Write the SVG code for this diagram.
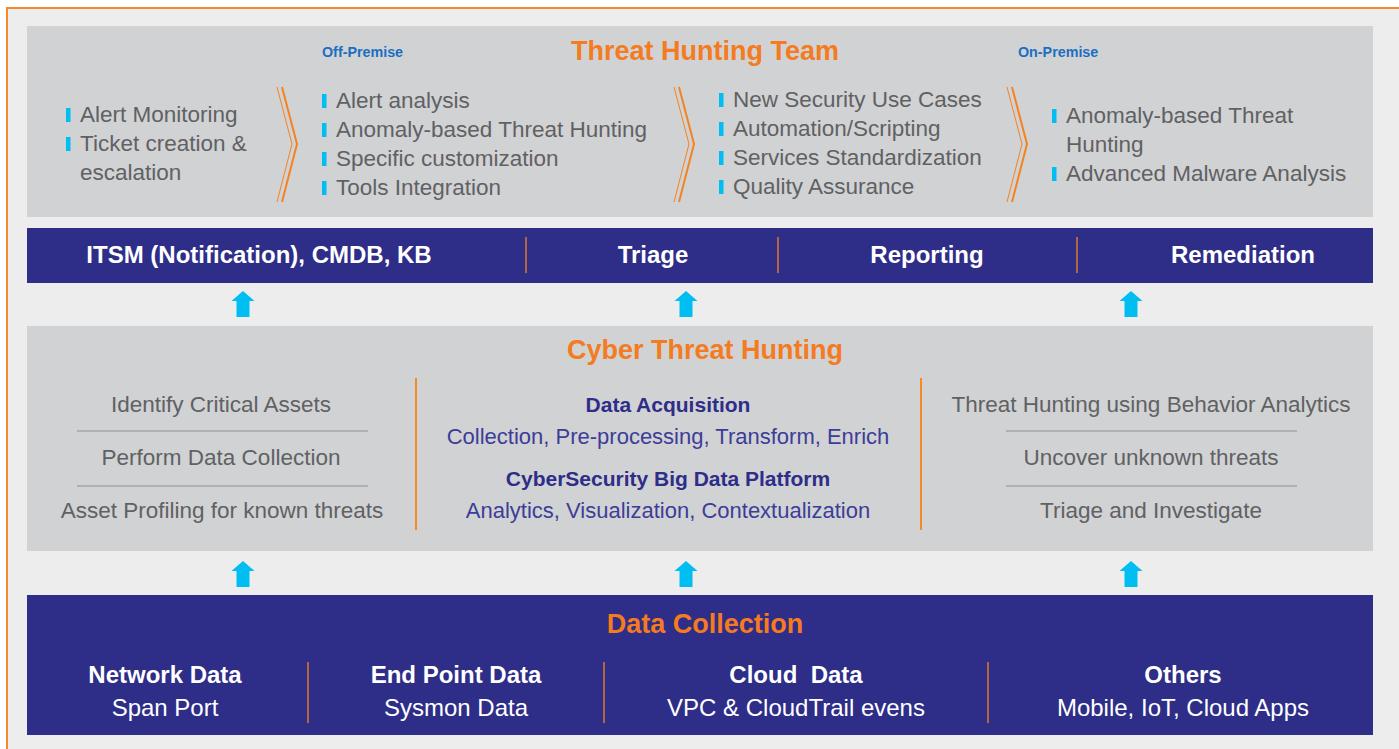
<svg xmlns="http://www.w3.org/2000/svg" width="1399" height="749" viewBox="0 0 1399 749">
<defs>
<style>
.bg{fill:#ffffff}
.frame{fill:#ededed;stroke:#f58a2a;stroke-width:2}
.panel{fill:#d1d2d4}
.navy{fill:#2e2d88}
.title{font-family:"Liberation Sans",Arial,sans-serif;font-weight:bold;font-size:27px;fill:#f47b20;text-anchor:middle}
.prem{font-family:"Liberation Sans",Arial,sans-serif;font-weight:bold;font-size:14.3px;fill:#1a6fc0}
.body{font-family:"Liberation Sans",Arial,sans-serif;font-size:22.5px;fill:#606163}
.mid{text-anchor:middle}
.bul{fill:#00bdf2}
.chev{fill:none;stroke:#f58220;stroke-linejoin:miter}
.bar{font-family:"Liberation Sans",Arial,sans-serif;font-weight:bold;font-size:24px;fill:#ffffff;text-anchor:middle}
.sep{stroke:#e0782a;stroke-width:1.5}
.osep{stroke:#f58a2a;stroke-width:2}
.gline{stroke:#8f9093;stroke-width:1.2}
.h2{font-family:"Liberation Sans",Arial,sans-serif;font-weight:bold;font-size:21px;fill:#2e2d88;text-anchor:middle}
.b2{font-family:"Liberation Sans",Arial,sans-serif;font-size:22px;fill:#3d3d98;text-anchor:middle}
.wb{font-family:"Liberation Sans",Arial,sans-serif;font-weight:bold;font-size:24px;fill:#ffffff;text-anchor:middle}
.wr{font-family:"Liberation Sans",Arial,sans-serif;font-size:24px;fill:#ffffff;text-anchor:middle}
.arrow{fill:#00bdf2}
</style>
<polygon id="up" points="0,0 11.5,10 6.5,10 6.5,26 -6.5,26 -6.5,10 -11.5,10"/>
</defs>
<rect class="bg" x="0" y="0" width="1399" height="749"/>
<rect class="frame" x="7" y="8" width="1400" height="760"/>

<g id="threat-hunting-team">
<rect class="panel" x="27" y="26" width="1346" height="191"/>
<text class="title" x="705" y="60">Threat Hunting Team</text>
<text class="prem" x="322" y="57">Off-Premise</text>
<text class="prem" x="1018" y="57">On-Premise</text>
<g id="tier1">
<rect class="bul" x="66" y="108" width="4.5" height="14"/>
<rect class="bul" x="66" y="137" width="4.5" height="14"/>
<text class="body" x="80" y="122">Alert Monitoring</text>
<text class="body" x="80" y="151">Ticket creation &amp;</text>
<text class="body" x="80" y="180">escalation</text>
</g>
<g id="chev1">
<polyline class="chev" stroke-width="1" points="277,87 292,144 277,202"/>
<polyline class="chev" stroke-width="2" points="282,87 297,144 282,202"/>
</g>
<g id="tier2">
<rect class="bul" x="322" y="94" width="4.5" height="14"/>
<rect class="bul" x="322" y="123" width="4.5" height="14"/>
<rect class="bul" x="322" y="152" width="4.5" height="14"/>
<rect class="bul" x="322" y="181" width="4.5" height="14"/>
<text class="body" x="336" y="108">Alert analysis</text>
<text class="body" x="336" y="137">Anomaly-based Threat Hunting</text>
<text class="body" x="336" y="166">Specific customization</text>
<text class="body" x="336" y="195">Tools Integration</text>
</g>
<g id="chev2">
<polyline class="chev" stroke-width="1" points="674,87 689,144 674,202"/>
<polyline class="chev" stroke-width="2" points="679,87 694,144 679,202"/>
</g>
<g id="tier3">
<rect class="bul" x="719" y="93" width="4.5" height="14"/>
<rect class="bul" x="719" y="122" width="4.5" height="14"/>
<rect class="bul" x="719" y="151" width="4.5" height="14"/>
<rect class="bul" x="719" y="180" width="4.5" height="14"/>
<text class="body" x="733" y="107">New Security Use Cases</text>
<text class="body" x="733" y="136">Automation/Scripting</text>
<text class="body" x="733" y="165">Services Standardization</text>
<text class="body" x="733" y="194">Quality Assurance</text>
</g>
<g id="chev3">
<polyline class="chev" stroke-width="1" points="1007,87 1022,144 1007,202"/>
<polyline class="chev" stroke-width="2" points="1012,87 1027,144 1012,202"/>
</g>
<g id="tier4">
<rect class="bul" x="1052" y="109" width="4.5" height="14"/>
<rect class="bul" x="1052" y="167" width="4.5" height="14"/>
<text class="body" x="1066" y="123">Anomaly-based Threat</text>
<text class="body" x="1066" y="152">Hunting</text>
<text class="body" x="1066" y="181">Advanced Malware Analysis</text>
</g>
</g>

<g id="services-bar">
<rect class="navy" x="27" y="228" width="1346" height="55"/>
<line class="sep" x1="526" y1="237" x2="526" y2="273"/>
<line class="sep" x1="778" y1="237" x2="778" y2="273"/>
<line class="sep" x1="1077" y1="237" x2="1077" y2="273"/>
<text class="bar" x="259" y="263">ITSM (Notification), CMDB, KB</text>
<text class="bar" x="653" y="263">Triage</text>
<text class="bar" x="927" y="263">Reporting</text>
<text class="bar" x="1243" y="263">Remediation</text>
</g>

<g id="cyber-threat-hunting">
<rect class="panel" x="27" y="326" width="1346" height="225"/>
<text class="title" x="705" y="359">Cyber Threat Hunting</text>
<line class="osep" x1="416" y1="378" x2="416" y2="530"/>
<line class="osep" x1="921" y1="378" x2="921" y2="530"/>
<g id="left-col">
<text class="body mid" x="221" y="412">Identify Critical Assets</text>
<line class="gline" x1="77" y1="431" x2="368" y2="431"/>
<text class="body mid" x="221" y="465">Perform Data Collection</text>
<line class="gline" x1="77" y1="486" x2="368" y2="486"/>
<text class="body mid" x="222" y="518">Asset Profiling for known threats</text>
</g>
<g id="center-col">
<text class="h2" x="668" y="412">Data Acquisition</text>
<text class="b2" x="668" y="444">Collection, Pre-processing, Transform, Enrich</text>
<text class="h2" x="668" y="486">CyberSecurity Big Data Platform</text>
<text class="b2" x="668" y="518">Analytics, Visualization, Contextualization</text>
</g>
<g id="right-col">
<text class="body mid" x="1151" y="412">Threat Hunting using Behavior Analytics</text>
<line class="gline" x1="1006" y1="431" x2="1297" y2="431"/>
<text class="body mid" x="1151" y="465">Uncover unknown threats</text>
<line class="gline" x1="1006" y1="486" x2="1297" y2="486"/>
<text class="body mid" x="1151" y="518">Triage and Investigate</text>
</g>
</g>

<g id="data-collection">
<rect class="navy" x="27" y="595" width="1346" height="140"/>
<text class="title" x="705" y="633">Data Collection</text>
<line class="sep" x1="308" y1="662" x2="308" y2="723"/>
<line class="sep" x1="604" y1="662" x2="604" y2="723"/>
<line class="sep" x1="988" y1="662" x2="988" y2="723"/>
<text class="wb" x="165" y="683">Network Data</text>
<text class="wr" x="165" y="716">Span Port</text>
<text class="wb" x="456" y="683">End Point Data</text>
<text class="wr" x="456" y="716">Sysmon Data</text>
<text class="wb" x="796" y="683" xml:space="preserve">Cloud  Data</text>
<text class="wr" x="796" y="716">VPC &amp; CloudTrail evens</text>
<text class="wb" x="1183" y="683">Others</text>
<text class="wr" x="1183" y="716">Mobile, IoT, Cloud Apps</text>
</g>

<g id="connectors">
<use href="#up" class="arrow" x="243" y="291"/>
<use href="#up" class="arrow" x="686" y="291"/>
<use href="#up" class="arrow" x="1131" y="291"/>
<use href="#up" class="arrow" x="243" y="561"/>
<use href="#up" class="arrow" x="686" y="561"/>
<use href="#up" class="arrow" x="1131" y="561"/>
</g>
</svg>
